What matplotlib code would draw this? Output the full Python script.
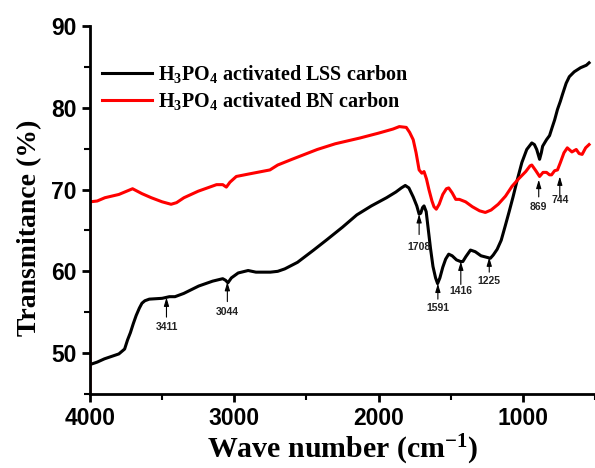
import matplotlib
matplotlib.use("Agg")
import matplotlib.pyplot as plt

# FTIR spectra
lss_wave = [4000, 3950, 3900, 3850, 3800, 3760, 3740, 3720, 3700, 3680, 3658, 3640, 3620,
            3589, 3500, 3450, 3411, 3350, 3247, 3150, 3080, 3060, 3044, 3020, 2973, 2904,
            2850, 2750, 2699, 2650, 2562, 2450, 2356, 2250, 2151, 2050, 1945, 1880, 1842,
            1815, 1790, 1760, 1735, 1719, 1708, 1695, 1685, 1670, 1658, 1640, 1623, 1605,
            1591, 1575, 1555, 1535, 1514, 1490, 1460, 1432, 1416, 1395, 1363, 1330, 1290,
            1247, 1225, 1205, 1178, 1150, 1123, 1095, 1068, 1040, 1007, 973, 938, 920, 904,
            884, 872, 863, 836, 815, 795, 780, 760, 740, 726, 700, 678, 644, 600, 560, 541]
lss_trans = [48.6, 48.9, 49.3, 49.6, 49.9, 50.5, 51.6, 52.5, 53.6, 54.6, 55.5, 56.1, 56.4,
             56.6, 56.7, 56.9, 56.9, 57.3, 58.2, 58.8, 59.1, 58.9, 58.6, 59.2, 59.8, 60.1,
             59.9, 59.9, 60.0, 60.3, 61.1, 62.6, 63.9, 65.4, 66.9, 68.0, 69.0, 69.7, 70.2,
             70.5, 70.2, 69.1, 68.0, 67.0, 67.1, 67.8, 68.0, 67.3, 65.5, 62.8, 60.6, 59.2,
             58.5, 59.2, 60.5, 61.5, 62.1, 61.9, 61.4, 61.2, 61.2, 61.8, 62.6, 62.4, 61.9,
             61.7, 61.6, 62.0, 62.7, 63.8, 65.5, 67.3, 69.1, 71.1, 73.3, 74.9, 75.7, 75.5, 74.9,
             73.7, 74.5, 75.3, 76.1, 76.6, 77.7, 78.5, 79.8, 80.8, 81.6, 83.0, 83.8, 84.4,
             84.9, 85.2, 85.5]

bn_wave = [4000, 4000, 3950, 3897, 3800, 3705, 3640, 3575, 3500, 3438, 3400, 3349, 3250,
           3123, 3080, 3055, 3030, 2986, 2900, 2753, 2699, 2600, 2425, 2300, 2130, 2000,
           1900, 1856, 1808, 1785, 1760, 1740, 1719, 1700, 1685, 1668, 1651, 1630, 1616,
           1600, 1580, 1555, 1530, 1514, 1490, 1465, 1440, 1397, 1350, 1300, 1260, 1220,
           1171, 1120, 1075, 1030, 980, 950, 938, 910, 884, 860, 836, 815, 801, 780, 760,
           740, 715, 692, 660, 630, 610, 589, 565, 541]
bn_trans = [44.0, 68.5, 68.6, 69.0, 69.4, 70.1, 69.5, 69.0, 68.5, 68.2, 68.4, 69.0, 69.8,
            70.6, 70.6, 70.3, 70.9, 71.6, 71.9, 72.4, 73.0, 73.7, 74.9, 75.6, 76.3, 76.9,
            77.4, 77.7, 77.6, 77.0, 76.1, 74.5, 72.4, 72.0, 72.2, 71.3, 70.0, 68.6, 67.9,
            67.6, 68.2, 69.4, 70.1, 70.2, 69.6, 68.8, 68.8, 68.5, 67.9, 67.4, 67.2, 67.5,
            68.2, 69.2, 70.4, 71.3, 72.2, 72.9, 73.0, 72.3, 71.6, 72.1, 72.1, 71.8, 71.8,
            72.3, 72.4, 73.3, 74.5, 75.1, 74.6, 74.9, 74.4, 74.3, 75.1, 75.5]

# peak labels: (label, x position, arrow tip, arrow tail, text y)
peak_labels = ["3411", "3044", "1708", "1591", "1416", "1225", "869", "744"]
peak_x = [3470, 3048, 1719, 1589, 1430, 1233, 890, 744]
peak_tip = [56.8, 58.7, 67.0, 58.5, 61.2, 61.7, 71.2, 71.6]
peak_tail = [54.4, 56.3, 64.5, 56.6, 58.4, 59.9, 69.1, 69.1]
peak_text_y = [53.2, 55.0, 63.0, 55.5, 57.6, 58.8, 67.9, 68.7]

plt.rcParams['mathtext.fontset'] = 'custom'
plt.rcParams['mathtext.rm'] = 'Liberation Serif:bold'
plt.rcParams['mathtext.it'] = 'Liberation Serif:bold'
plt.rcParams['mathtext.bf'] = 'Liberation Serif:bold'

fig = plt.figure(figsize=(5.95, 4.68), dpi=100)
ax = fig.add_axes([90 / 595, 1 - 394 / 468, 1 - 90 / 595, (394 - 26) / 468])

ax.plot(lss_wave, lss_trans, color='black', lw=2.2, label=r'H$_3$PO$_4$ activated LSS carbon')
ax.plot(bn_wave, bn_trans, color='red', lw=2.2, label=r'H$_3$PO$_4$ activated BN carbon')

for lab, x, tip, tail, ty in zip(peak_labels, peak_x, peak_tip, peak_tail, peak_text_y):
    ax.annotate('', xy=(x, tip), xytext=(x, tail),
                arrowprops=dict(arrowstyle='-|>,head_length=0.5,head_width=0.15',
                                color='black', lw=0.8, shrinkA=0, shrinkB=0))
    ax.text(x, ty, lab, ha='center', va='center', fontsize=7.5,
            fontweight='bold', family='Liberation Sans', color='#222222')

ax.set_xlim(4000, 541)
ax.set_ylim(45, 90)
ax.set_xticks([4000, 3000, 2000, 1000])
ax.set_xticks([3500, 2500, 1500, 500], minor=True)
ax.set_yticks([50, 60, 70, 80, 90])
ax.set_yticks([45, 55, 65, 75, 85], minor=True)

for side in ['top', 'right']:
    ax.spines[side].set_visible(False)
for side in ['left', 'bottom']:
    ax.spines[side].set_linewidth(2)
ax.tick_params(which='major', direction='out', length=6, width=2, pad=3.5)
ax.tick_params(which='minor', direction='out', length=4, width=1.5)
for lbl in ax.get_xticklabels() + ax.get_yticklabels():
    lbl.set_family('Liberation Sans')
    lbl.set_fontweight('bold')
    lbl.set_fontsize(16.5)

ax.set_xlabel(r'Wave number (cm$^{-1}$)', family='Liberation Serif', fontweight='bold', fontsize=21.5)
ax.set_ylabel('Transmitance (%)', family='Liberation Serif', fontweight='bold', fontsize=20)
ax.xaxis.set_label_coords(0.5, -0.105)
ax.yaxis.set_label_coords(-0.095, 0.452)

leg = ax.legend(loc='upper left', bbox_to_anchor=(102 / 595, 1 - 63 / 468),
                bbox_transform=fig.transFigure, frameon=False, borderpad=0,
                borderaxespad=0, handlelength=2.5, handletextpad=0.3, labelspacing=0.25,
                prop={'family': 'Liberation Serif', 'weight': 'bold', 'size': 14.5})

fig.savefig('out.png', dpi=100)
